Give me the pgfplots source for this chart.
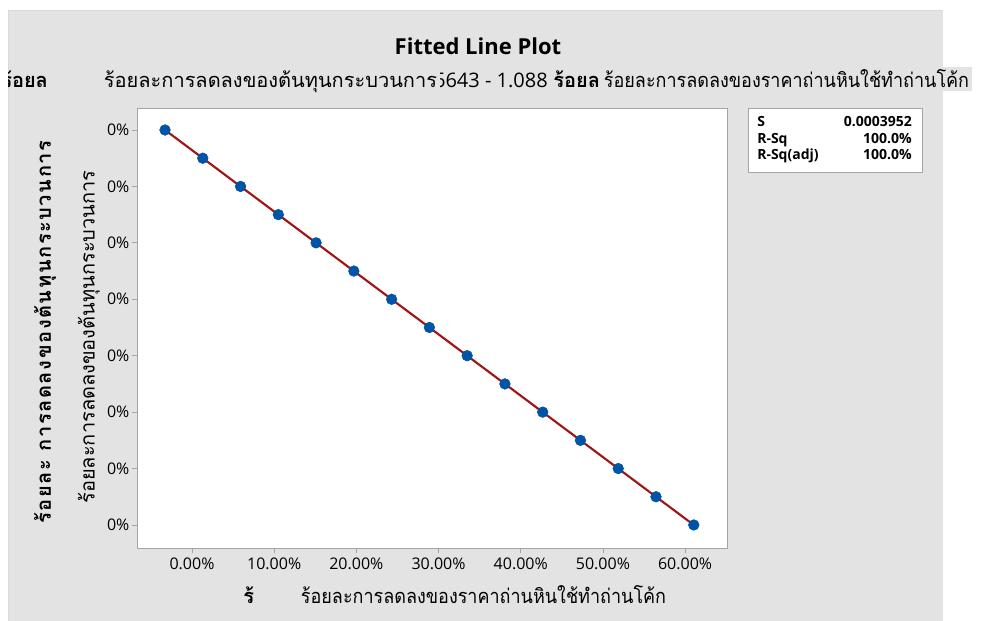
\documentclass[border=0pt]{standalone}
\usepackage{fontspec}
\usepackage{pgfplots}
\pgfplotsset{compat=1.18}
\setmainfont{Open Sans}
\newfontfamily\thai[Script=Thai]{Loma}
\newfontfamily\thain[Script=Thai,FakeStretch=0.9]{Loma}
\newfontfamily\thaisp[Script=Thai,LetterSpace=8]{Loma}
\definecolor{panel}{RGB}{227,227,227}
\definecolor{fitred}{RGB}{160,22,22}
\definecolor{ptblue}{RGB}{0,84,166}
\definecolor{framegray}{RGB}{165,165,165}
\pgfplotstableread{
x y
-3.281 70
1.314 65
5.910 60
10.506 55
15.101 50
19.697 45
24.292 40
28.888 35
33.483 30
38.079 25
42.675 20
47.270 15
51.866 10
56.461 5
61.057 0
}\pts
\begin{document}
\begin{tikzpicture}[x=0.75pt,y=0.75pt]
\path[use as bounding box] (0,0) rectangle (989,621);
\fill[panel] (8,0) rectangle (943,611);
\draw[black!15] (8,0) -- (8,611) -- (943,611);
\begin{axis}[at={(102.75pt,54.75pt)}, anchor=south west, scale only axis,
  width=442.5pt, height=330pt,
  xmin=-6.69, xmax=65.1, ymin=-4.08, ymax=73.9,
  axis background/.style={fill=white},
  axis line style={framegray, line width=0.6pt},
  xtick={0,10,20,30,40,50,60}, ytick={0,10,20,30,40,50,60,70},
  xticklabels={0.00\%,10.00\%,20.00\%,30.00\%,40.00\%,50.00\%,60.00\%},
  yticklabels={0.00\%,10.00\%,20.00\%,30.00\%,40.00\%,50.00\%,60.00\%,70.00\%},
  tick style={framegray, line width=0.6pt},
  tick align=outside, major tick length=4pt,
  xtick pos=bottom, ytick pos=left,
  tick label style={font=\fontsize{12}{14}\selectfont, text=black},
  yticklabel style={inner sep=1.5pt},
  /pgf/number format/assume math mode=true,
  clip=false]
\addplot[fitred, line width=1.6pt] coordinates {(-3.281,70) (61.057,0)};
\addplot[only marks, mark=*, mark size=4pt, color=ptblue] table[x=x,y=y] {\pts};
\end{axis}
% y labels
\node[rotate=90, fill=panel, inner sep=1pt, minimum height=27pt, minimum width=345pt]
  at (89,284) {\thai\fontsize{15}{18}\selectfont ร้อยละการลดลงของต้นทุนกระบวนการ};
\node[rotate=90, inner sep=1pt] at (45,289)
  {\thaisp\bfseries\fontsize{15}{18}\selectfont ร้อยละ การลดลงของต้นทุนกระบวนการ};
% title
\node[anchor=base] at (478,566) {\bfseries\fontsize{16.5}{20}\selectfont Fitted Line Plot};
% subtitle
\begin{scope}
\clip (8,0) rectangle (989,621);
\node[anchor=base west, inner sep=0pt] at (1,533) {\thai\bfseries\fontsize{15}{18}\selectfont ร้อยล};
\end{scope}
\node[anchor=base east, inner sep=0pt] at (548,533) {\fontsize{15}{18}\selectfont 0.6643 - 1.088};
\node[anchor=base west, inner sep=2pt, fill=panel] at (101,533) {\thai\fontsize{15}{18}\selectfont ร้อยละการลดลงของต้นทุนกระบวนการ};
\node[anchor=base west, inner sep=0pt] at (553,533) {\thai\bfseries\fontsize{15}{18}\selectfont ร้อยละ};
\node[anchor=base west, inner sep=2pt, fill=panel] at (601,533) {\thain\fontsize{15}{18}\selectfont ร้อยละการลดลงของราคาถ่านหินใช้ทำถ่านโค้ก};
% x labels
\node[anchor=base west, inner sep=0pt] at (243,17) {\thai\bfseries\fontsize{15}{18}\selectfont ร้};
\node[anchor=base west, inner sep=2pt, fill=panel] at (298,17) {\thain\fontsize{15}{18}\selectfont ร้อยละการลดลงของราคาถ่านหินใช้ทำถ่านโค้ก};
% stats box
\draw[framegray, fill=white, line width=0.6pt] (748,513) rectangle (922,449);
\begin{scope}[every node/.style={inner sep=0pt, font=\bfseries\fontsize{10.5}{12}\selectfont}]
\node[anchor=base west] at (757,494) {S};
\node[anchor=base east] at (912,494) {0.0003952};
\node[anchor=base west] at (757,477) {R-Sq};
\node[anchor=base east] at (912,477) {100.0\%};
\node[anchor=base west] at (757,461) {R-Sq(adj)};
\node[anchor=base east] at (912,461) {100.0\%};
\end{scope}
\end{tikzpicture}
\end{document}
